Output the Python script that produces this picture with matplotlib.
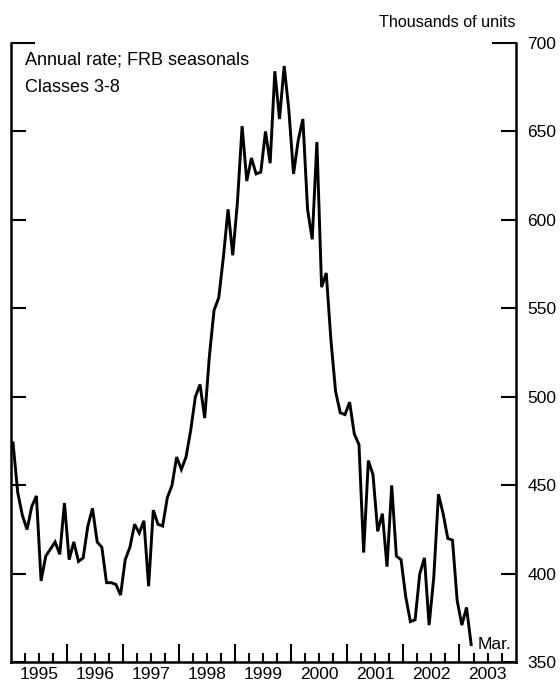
import numpy as np
import matplotlib
matplotlib.use('Agg')
import matplotlib.pyplot as plt

plt.rcParams['font.family'] = ['Liberation Sans', 'DejaVu Sans']

#------- data: monthly starts, thousands of units, annual rate -------
start_year = 1995
units_1995 = [474, 446, 433, 425, 438, 444, 396, 410, 414, 418, 411, 440]
units_1996 = [408, 418, 407, 409, 427, 437, 418, 415, 395, 395, 394, 388]
units_1997 = [408, 415, 428, 423, 430, 393, 436, 428, 427, 443, 450, 466]
units_1998 = [459, 466, 481, 500, 507, 488, 523, 549, 556, 579, 606, 580]
units_1999 = [610, 653, 622, 635, 626, 627, 650, 632, 684, 657, 687, 662]
units_2000 = [626, 645, 657, 606, 589, 644, 562, 570, 532, 503, 491, 490]
units_2001 = [497, 479, 473, 412, 464, 456, 424, 434, 404, 450, 410, 408]
units_2002 = [387, 373, 374, 400, 409, 371, 398, 445, 434, 420, 419, 385]
units_2003 = [371, 381, 360]

years = [1995, 1996, 1997, 1998, 1999, 2000, 2001, 2002, 2003]
yticks = [350, 400, 450, 500, 550, 600, 650, 700]
last_label = 'Mar.'

units = (units_1995 + units_1996 + units_1997 + units_1998 + units_1999
         + units_2000 + units_2001 + units_2002 + units_2003)
# mid-month positions in decimal years
t = start_year + (np.arange(len(units)) + 0.5) / 12.0

fig = plt.figure(figsize=(5.6, 6.82), dpi=100)
ax = fig.add_axes([0.0191, 0.0289, 0.9016, 0.9081])

ax.plot(t, units, color='black', linewidth=2.1, solid_joinstyle='miter')

ax.set_xlim(years[0], years[-1] + 1)
ax.set_ylim(yticks[0], yticks[-1])

for s in ['left', 'right', 'bottom']:
    ax.spines[s].set_linewidth(1.8)
ax.spines['top'].set_visible(False)

# y axis: ticks both sides pointing in, labels on the right
ax.set_yticks(yticks)
ax.yaxis.set_ticks_position('both')
ax.tick_params(axis='y', direction='in', length=10.8, width=1.5,
               labelleft=False, labelright=True, labelsize=12.5, pad=8.5)
top_tick = ax.yaxis.get_major_ticks()[-1]
top_tick.tick1line.set_markersize(17.3)
top_tick.tick2line.set_markersize(17.3)

# x axis: year boundaries long, quarters short, year labels centred
ax.set_xticks(years[1:])
ax.set_xticklabels([])
quarters = [y + q / 4.0 for y in years for q in (1, 2, 3)]
ax.set_xticks(quarters, minor=True)
ax.tick_params(axis='x', which='major', direction='in', length=13, width=1.5)
ax.tick_params(axis='x', which='minor', direction='in', length=6.5, width=1.5)
for y in years:
    ax.text(y + 0.5, -0.008, str(y), transform=ax.get_xaxis_transform(),
            ha='center', va='top', fontsize=12.5)

ax.annotate(last_label, xy=(t[-1], units[-1]), xytext=(5, 0),
            textcoords='offset points', ha='left', va='center', fontsize=12.5)

ax.annotate('Thousands of units', xy=(1, 1), xycoords='axes fraction',
            xytext=(0, 11.7), textcoords='offset points',
            ha='right', va='baseline', fontsize=11.6)
ax.text(0.028, 0.9645, 'Annual rate; FRB seasonals',
        transform=ax.transAxes, ha='left', va='baseline', fontsize=13)
ax.text(0.028, 0.9204, 'Classes 3-8',
        transform=ax.transAxes, ha='left', va='baseline', fontsize=13)

fig.savefig('out.png', dpi=100)
